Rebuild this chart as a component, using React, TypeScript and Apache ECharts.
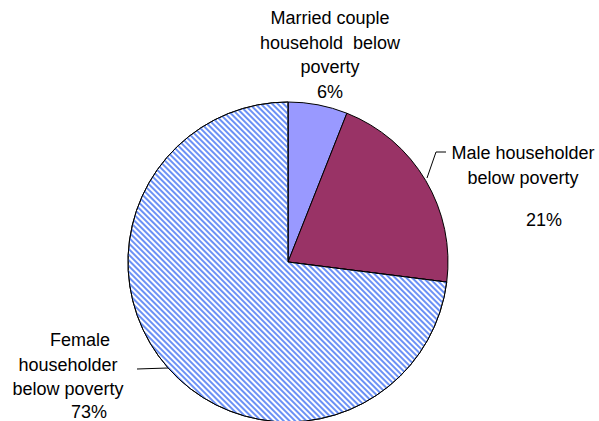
import React, { useEffect, useRef } from "react";
import * as echarts from "echarts";

const categories = [
  "Married couple household  below poverty",
  "Male householder below poverty",
  "Female householder below poverty",
];
const values = [6, 21, 73];
const colors = ["#9999FF", "#993366", "#FFFFFF"];

export default function App() {
  const ref = useRef<HTMLDivElement>(null);
  useEffect(() => {
    document.body.style.margin = "0";
    const chart = echarts.init(ref.current!, null, { renderer: "svg" });
    const labelPos = [
      { x: 330, y: 6, pts: null },
      { x: 523, y: 141, pts: [[427, 178], [436, 152], [446, 152]] },
      { x: 68, y: 328, pts: [[168, 368], [152, 368.5], [137, 369]] },
    ];
    const fmt = (p: any) => {
      const i = p.dataIndex;
      const v = values[i] + "%";
      if (i === 0) return "{t|Married couple}\n{t|household  below}\n{t|poverty}\n{t|" + v + "}";
      if (i === 1) return "{t|Male householder}\n{t|below poverty}\n{g| }\n{p21|" + v + "}";
      return "{f|Female}\n{t|householder}\n{t|below poverty}\n{p73|" + v + "}";
    };
    const base = { fontFamily: "Liberation Sans, Arial, sans-serif", fontSize: 18, color: "#000", lineHeight: 24.5, align: "center" };
    chart.setOption({
      animation: false,
      backgroundColor: "#fff",
      series: [
        {
          type: "pie",
          center: [288, 262],
          radius: 160,
          startAngle: 90,
          clockwise: true,
          avoidLabelOverlap: false,
          itemStyle: { borderColor: "#000", borderWidth: 1 },
          label: {
            show: true,
            position: "outer",
            formatter: fmt,
            fontSize: 18,
            fontFamily: "Liberation Sans, Arial, sans-serif",
            rich: {
              t: { ...base },
              f: { ...base, padding: [0, 0, 0, 24] },
              g: { ...base, lineHeight: 17 },
              p21: { ...base, lineHeight: 25, padding: [0, 0, 0, 42] },
              p73: { ...base, lineHeight: 20, padding: [0, 0, 0, 42] },
            },
          },
          labelLine: { show: true, lineStyle: { color: "#000", width: 1 } },
          labelLayout: (params: any) => {
            const lp = labelPos[params.dataIndex];
            const r: any = { x: lp.x, y: lp.y, align: "center", verticalAlign: "top" };
            if (lp.pts) r.labelLinePoints = lp.pts;
            return r;
          },
          data: categories.map((name, i) => ({
            name,
            value: values[i],
            itemStyle:
              i === 2
                ? {
                    color: colors[i],
                    decal: {
                      symbol: "rect",
                      symbolSize: 1,
                      dashArrayX: [1, 0],
                      dashArrayY: [1.5, 1.5],
                      rotation: Math.PI / 4,
                      color: "#6c91f5",
                    },
                  }
                : { color: colors[i] },
            labelLine: i === 0 ? { show: false } : undefined,
          })),
        },
      ],
    });
    return () => chart.dispose();
  }, []);
  return <div ref={ref} style={{ width: 599, height: 421 }} />;
}
